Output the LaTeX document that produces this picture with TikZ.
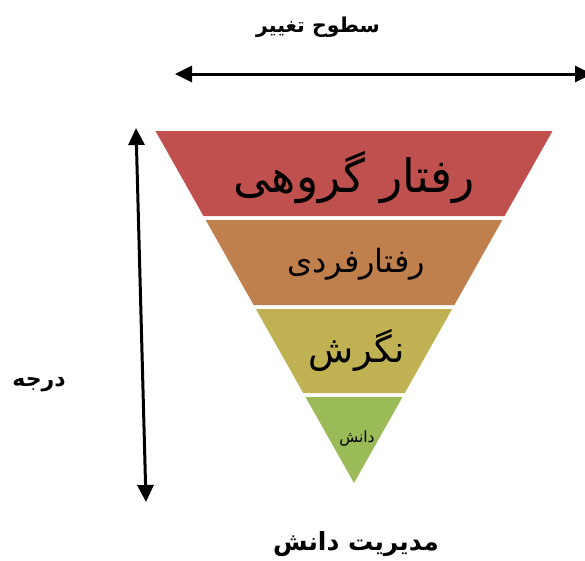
\documentclass[tikz,border=0pt]{standalone}
\usepackage{fontspec}
\newfontfamily\arabicfont[Script=Arabic]{DejaVu Sans}
\TeXXeTstate=1
\usetikzlibrary{arrows.meta}
\definecolor{bandA}{HTML}{C0504D}
\definecolor{bandB}{HTML}{C0804E}
\definecolor{bandC}{HTML}{C0B152}
\definecolor{bandD}{HTML}{9BBB59}
\begin{document}
\begin{tikzpicture}[
  x=1pt, y=-1pt,
  band/.style={draw=none},
  lbl/.style={inner sep=0pt, font=\arabicfont},
  axis/.style={black, line width=3pt, {Triangle[length=17pt,width=16pt]}-{Triangle[length=17pt,width=16pt]}}
]
\useasboundingbox (0,0) rectangle (585,560);
\foreach \t/\b/\c in {131/216/bandA, 220/305/bandB, 309/393/bandC, 397/483/bandD}
  \fill[band, \c] ({354-0.5639*(483-\t)}, \t) -- ({354+0.5639*(483-\t)}, \t)
    -- ({354+0.5639*(483-\b)}, \b) -- ({354-0.5639*(483-\b)}, \b) -- cycle;
\node[lbl, font=\arabicfont\fontsize{46}{52}\selectfont] (group) at (354,178) {\beginR رفتار گروهی\endR};
\node[lbl, font=\arabicfont\fontsize{32}{38}\selectfont] (person) at (356,264) {\beginR رفتارفردی\endR};
\node[lbl, font=\arabicfont\fontsize{37}{42}\selectfont] (view) at (357,350) {\beginR نگرش\endR};
\node[lbl, font=\arabicfont\fontsize{15.5}{18}\selectfont] (know) at (357,438) {\beginR دانش\endR};
\node[lbl, font=\arabicfont\bfseries\fontsize{20.5}{24}\selectfont] (levels) at (318,27) {\beginR سطوح تغییر\endR};
\node[lbl, font=\arabicfont\bfseries\fontsize{22}{26}\selectfont] (degree) at (39,385) {\beginR درجه\endR};
\node[lbl, font=\arabicfont\bfseries\fontsize{25}{28}\selectfont] (mgmt) at (356,544) {\beginR مدیریت دانش\endR};
\coordinate (hl) at (175,74);
\coordinate (hr) at (592,74);
\coordinate (vt) at (136,128);
\coordinate (vb) at (146,502);
\draw[axis] (hl) -- (hr);
\draw[axis] (vb) -- (vt);
\end{tikzpicture}
\end{document}
